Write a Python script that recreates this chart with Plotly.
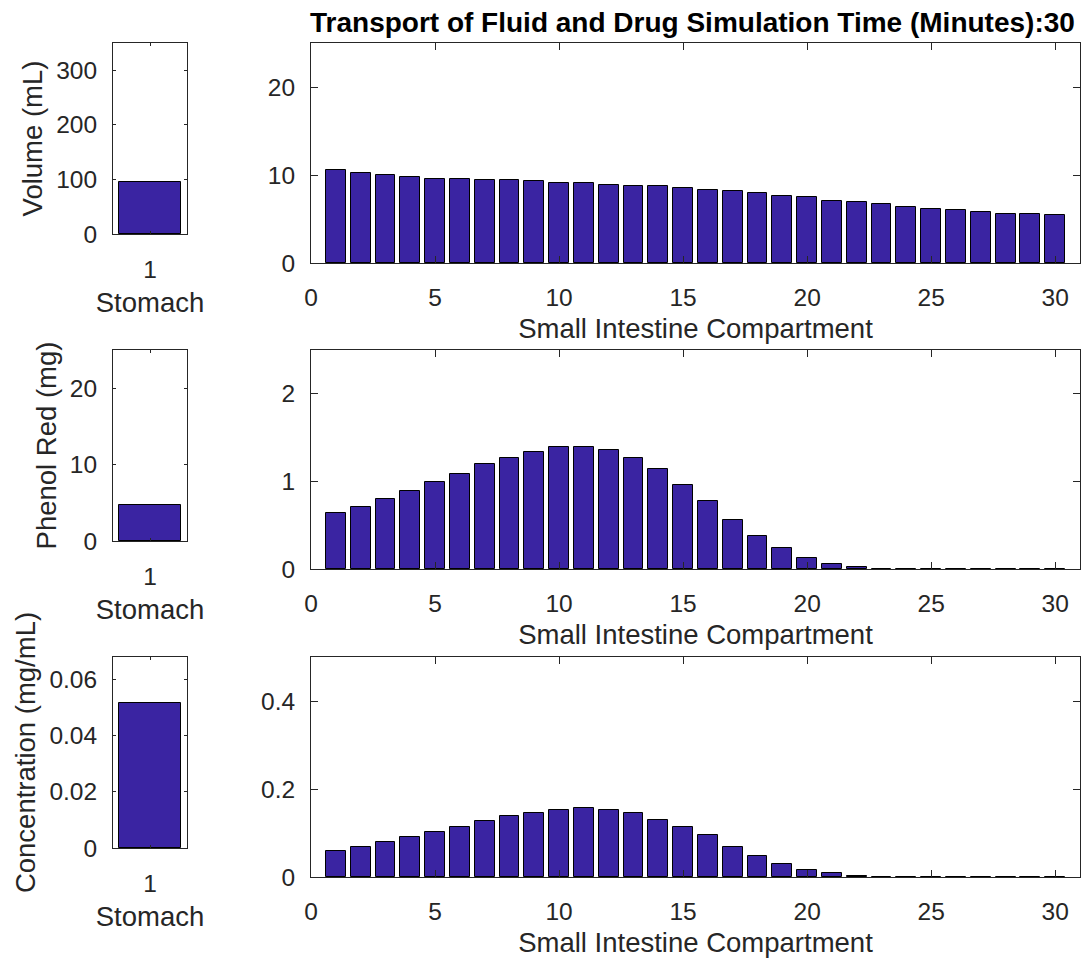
import plotly.graph_objects as go

# ---------------- data ----------------
compartments = list(range(1, 31))
stomach_x = [1]

stomach_volume = [96]
si_volume = [10.54, 10.2, 10.0, 9.8, 9.6, 9.6, 9.4, 9.4, 9.27, 9.08,
             9.08, 8.88, 8.7, 8.7, 8.54, 8.35, 8.15, 8.0, 7.65, 7.46,
             7.08, 6.92, 6.73, 6.38, 6.19, 6.0, 5.81, 5.62, 5.62, 5.42]

stomach_phenol = [4.7]
si_phenol = [0.636, 0.709, 0.797, 0.889, 0.996, 1.084, 1.195, 1.268, 1.337, 1.395,
             1.395, 1.36, 1.268, 1.142, 0.962, 0.778, 0.563, 0.379, 0.238, 0.130,
             0.054, 0.019, 0.0, 0.0, 0.0, 0.0, 0.0, 0.0, 0.0, 0.0]

stomach_conc = [0.0515]
si_conc = [0.059, 0.069, 0.0805, 0.091, 0.102, 0.113, 0.127, 0.138, 0.145, 0.152,
           0.156, 0.152, 0.145, 0.130, 0.113, 0.095, 0.069, 0.0475, 0.030, 0.0153,
           0.0084, 0.0025, 0.0, 0.0, 0.0, 0.0, 0.0, 0.0, 0.0, 0.0]

title_text = "Transport of Fluid and Drug Simulation Time (Minutes):30"
y_titles = ["Volume (mL)", "Phenol Red (mg)", "Concentration (mg/mL)"]
stomach_label = "Stomach"
si_label = "Small Intestine Compartment"

stomach_ranges = [[0, 350], [0, 25], [0, 0.068]]
stomach_ticks = [[0, 100, 200, 300], [0, 10, 20], [0, 0.02, 0.04, 0.06]]
main_ranges = [[0, 25], [0, 2.5], [0, 0.5]]
main_ticks = [[0, 10, 20], [0, 1, 2], [0, 0.2, 0.4]]
main_xticks = [0, 5, 10, 15, 20, 25, 30]

# ---------------- style ----------------
W, H = 1086, 962
BAR = "#3a24a2"
AX = "#262626"
FONT = "Liberation Sans, Arial, Helvetica, sans-serif"
TICK_SIZE = 24.5
LABEL_SIZE = 27.5

def py(px):
    return 1 - px / H

def pxx(px):
    return px / W

rows = [
    # stomach (top, bottom), main (top, bottom)
    ((43, 234), (43, 263)),
    ((350, 541), (350, 569)),
    ((657, 848), (657, 877)),
]
stom_x = [pxx(113), pxx(187)]
main_x = [pxx(311), pxx(1080)]

stom_vals = [stomach_volume, stomach_phenol, stomach_conc]
main_vals = [si_volume, si_phenol, si_conc]

fig = go.Figure()
layout = dict(
    width=W, height=H,
    margin=dict(l=0, r=0, t=0, b=0),
    paper_bgcolor="white", plot_bgcolor="white",
    showlegend=False,
    font=dict(family=FONT, size=TICK_SIZE, color=AX),
    bargap=0,
)

common_axis = dict(
    showline=True, linecolor=AX, linewidth=1, mirror="ticks",
    ticks="inside", tickcolor=AX, showgrid=False, zeroline=False,
    tickfont=dict(family=FONT, size=TICK_SIZE, color=AX),
    automargin=False, fixedrange=True,
)

for i in range(3):
    s_idx = 2 * i + 1
    m_idx = 2 * i + 2
    (st, sb), (mt, mb) = rows[i]

    fig.add_trace(go.Bar(
        x=stomach_x, y=stom_vals[i], width=0.83,
        marker=dict(color=BAR, line=dict(color="black", width=1)),
        xaxis=f"x{s_idx}", yaxis=f"y{s_idx}", hoverinfo="skip",
    ))
    fig.add_trace(go.Bar(
        x=compartments, y=main_vals[i], width=0.8,
        marker=dict(color=BAR, line=dict(color="black", width=1)),
        xaxis=f"x{m_idx}", yaxis=f"y{m_idx}", hoverinfo="skip",
    ))

    sx = "xaxis" if s_idx == 1 else f"xaxis{s_idx}"
    sy = "yaxis" if s_idx == 1 else f"yaxis{s_idx}"
    layout[sx] = dict(
        common_axis, domain=stom_x, anchor=f"y{s_idx}",
        range=[0.5, 1.5], tickvals=[1], ticktext=["1"], ticklen=3,
        ticklabelstandoff=14,
        title=dict(text=stomach_label, standoff=10,
                   font=dict(family=FONT, size=LABEL_SIZE, color=AX)),
    )
    layout[sy] = dict(
        common_axis, domain=[py(sb), py(st)], anchor=f"x{s_idx}",
        range=stomach_ranges[i], tickvals=stomach_ticks[i], ticklen=3,
        ticklabelstandoff=10,
        title=dict(text=y_titles[i], standoff=5,
                   font=dict(family=FONT, size=LABEL_SIZE, color=AX)),
    )
    layout[f"xaxis{m_idx}"] = dict(
        common_axis, domain=main_x, anchor=f"y{m_idx}",
        range=[0, 31], tickvals=main_xticks, ticklen=7,
        ticklabelstandoff=13,
        title=dict(text=si_label, standoff=8,
                   font=dict(family=FONT, size=LABEL_SIZE, color=AX)),
    )
    layout[f"yaxis{m_idx}"] = dict(
        common_axis, domain=[py(mb), py(mt)], anchor=f"x{m_idx}",
        range=main_ranges[i], tickvals=main_ticks[i], ticklen=7,
        ticklabelstandoff=10,
    )

layout["annotations"] = [dict(
    text="<b>" + title_text + "</b>", xref="paper", yref="paper",
    x=(pxx(313) + pxx(1072)) / 2, y=py(22.5), xanchor="center", yanchor="middle",
    showarrow=False, font=dict(family=FONT, size=28, color="black"),
)]

fig.update_layout(**layout)
fig.write_html("out.html")
